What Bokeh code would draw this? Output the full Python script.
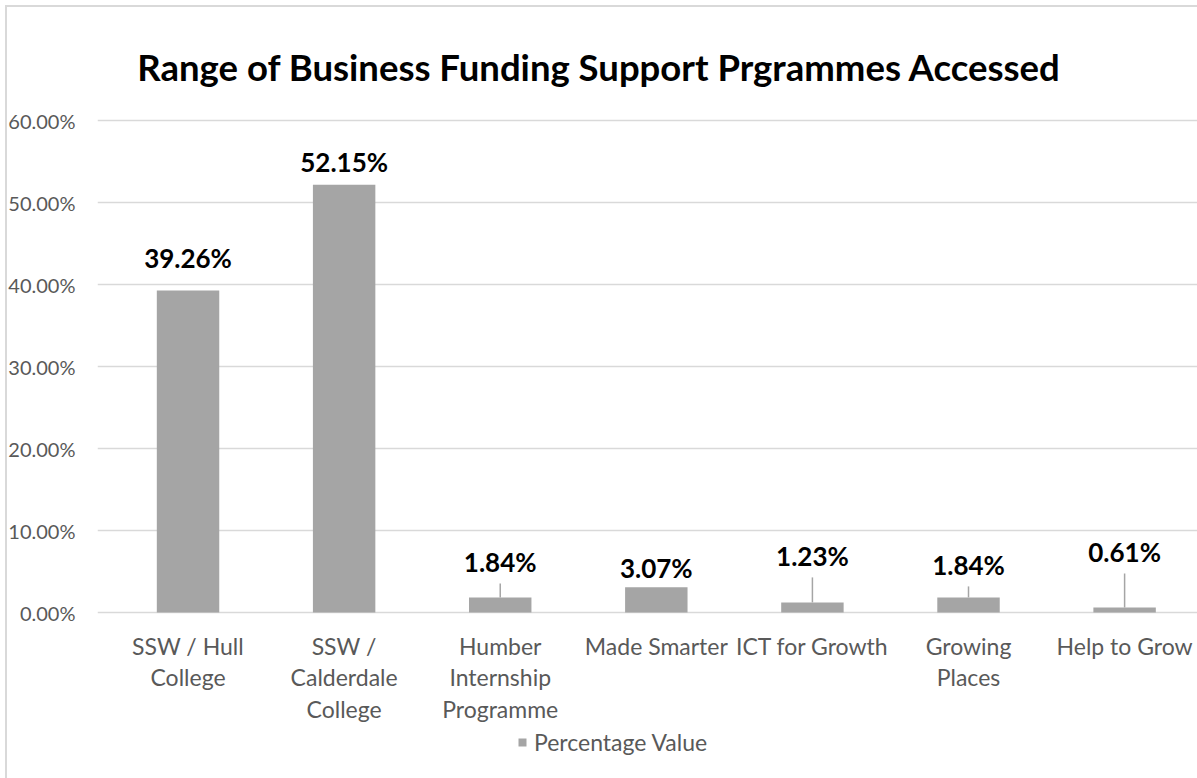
from bokeh.plotting import figure
from bokeh.models import (ColumnDataSource, LabelSet, Label, Legend, LegendItem,
                          FixedTicker, NumeralTickFormatter, Range1d)
from bokeh.core.properties import value
from bokeh.embed import file_html
from bokeh.resources import INLINE

# ---- data ----
categories = ["SSW / Hull\nCollege", "SSW /\nCalderdale\nCollege", "Humber\nInternship\nProgramme",
              "Made Smarter", "ICT for Growth", "Growing\nPlaces", "Help to Grow"]
values = [0.3926, 0.5215, 0.0184, 0.0307, 0.0123, 0.0184, 0.0061]
value_labels = ["39.26%", "52.15%", "1.84%", "3.07%", "1.23%", "1.84%", "0.61%"]
y_ticks = [0.0, 0.1, 0.2, 0.3, 0.4, 0.5, 0.6]
series_name = "Percentage Value"
title_text = "Range of Business Funding Support Prgrammes Accessed"

# ---- style (label displacement in pixels above bar top, leader flags) ----
label_off_px = [33, 23, 35, 19, 46, 32, 55]
has_leader = [False, False, True, False, True, True, True]

FONT = "Lato"
W, H = 1197, 778
FRAME_LEFT = 97
Y0_PX, Y60_PX = 612, 120
px_per_unit = (Y0_PX - Y60_PX) / 0.6
y_top = 0.6 + Y60_PX / px_per_unit
y_bot = -(H - Y0_PX) / px_per_unit

xs = list(range(len(categories)))

p = figure(width=W, height=H, output_backend="svg", toolbar_location=None,
           x_range=Range1d(-0.58, 6.467), y_range=Range1d(y_bot, y_top),
           min_border_left=FRAME_LEFT, min_border_right=0,
           min_border_top=0, min_border_bottom=0)
# chart-area border (left and top edges) painted behind a transparent canvas
p.styles = {"background": ("linear-gradient(#d9d9d9, #d9d9d9) 5px 5px / 2px 100% no-repeat, "
                           "linear-gradient(#d9d9d9, #d9d9d9) 5px 5px / 100% 2px no-repeat, "
                           "#ffffff")}
p.outline_line_color = None
p.background_fill_color = None
p.border_fill_color = None

src = ColumnDataSource(dict(x=xs, top=values, lab=value_labels, off=label_off_px))
bars = p.vbar(x="x", top="top", width=0.40, bottom=0, source=src,
              fill_color="#a5a5a5", line_color=None)

# leader lines
lx, ly0, ly1 = [], [], []
for x, v, o, h in zip(xs, values, label_off_px, has_leader):
    if h:
        lx.append(x)
        ly0.append(v)
        ly1.append(v + (o - 21) / px_per_unit)
p.segment(x0=lx, y0=ly0, x1=lx, y1=ly1, line_color="#a5a5a5", line_width=1.5)

# data labels
p.add_layout(LabelSet(x="x", y="top", text="lab", y_offset="off", source=src,
                      text_align="center", text_baseline="middle",
                      text_font=value(FONT), text_font_style="bold", text_font_size="26px",
                      text_color="#000000"))

# axes
p.xaxis.visible = False
p.yaxis.ticker = FixedTicker(ticks=y_ticks)
p.yaxis.formatter = NumeralTickFormatter(format="0.00%")
p.yaxis.axis_line_color = None
p.yaxis.major_tick_line_color = None
p.yaxis.minor_tick_line_color = None
p.yaxis.major_label_standoff = 16
p.yaxis.major_label_text_font = FONT
p.yaxis.major_label_text_font_size = "20px"
p.yaxis.major_label_text_color = "#595959"
p.xgrid.grid_line_color = None
p.ygrid.ticker = FixedTicker(ticks=y_ticks)
p.ygrid.grid_line_color = "#d9d9d9"
p.ygrid.grid_line_width = 1.5

# category labels (multi-line), placed below the zero line
cx, cy, ct = [], [], []
for x, c in zip(xs, categories):
    for i, line in enumerate(c.split("\n")):
        cx.append(x)
        cy.append((H - 645) - 31.5 * i)
        ct.append(line)
p.add_layout(LabelSet(x="x", y="y", text="t", y_units="screen",
                      source=ColumnDataSource(dict(x=cx, y=cy, t=ct)),
                      text_align="center", text_baseline="middle",
                      text_font=value(FONT), text_font_size="23px", text_color="#595959"))

# title
p.add_layout(Label(x=599 - FRAME_LEFT, y=H - 66, x_units="screen", y_units="screen",
                   text=title_text, text_align="center", text_baseline="middle",
                   text_font=FONT, text_font_style="bold", text_font_size="36.5px",
                   text_color="#000000"))

# legend
legend = Legend(items=[LegendItem(label=series_name, renderers=[bars])],
                location=(420, 22), orientation="horizontal",
                padding=0, margin=0, border_line_color=None, background_fill_alpha=0,
                glyph_width=10, glyph_height=10, label_standoff=7,
                label_text_font=FONT, label_text_font_size="23px",
                label_text_color="#595959")
p.add_layout(legend, "center")

open("out.html", "w").write(file_html(p, INLINE))
